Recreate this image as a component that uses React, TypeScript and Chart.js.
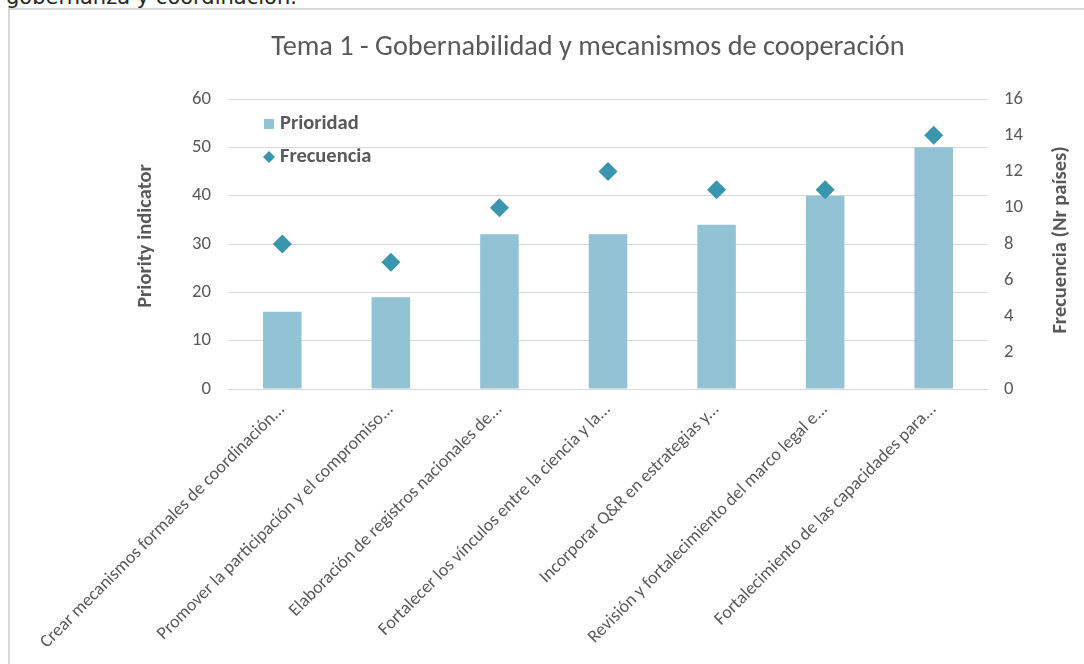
import React, { useEffect, useRef } from "react";
import { Chart, registerables } from "chart.js";

Chart.register(...registerables);

const chartTitle = "Tema 1 - Gobernabilidad y mecanismos de cooperación";
const leftAxisTitle = "Priority indicator";
const rightAxisTitle = "Frecuencia (Nr países)";
const pageCaption = "gobernanza y coordinación.";

const categories = [
  "Crear mecanismos formales de coordinación...",
  "Promover la participación y el compromiso...",
  "Elaboración de registros nacionales de...",
  "Fortalecer los vínculos entre la ciencia y la...",
  "Incorporar Q&R en estrategias y...",
  "Revisión y fortalecimiento del marco legal e...",
  "Fortalecimiento de las capacidades para...",
];
const prioridad = [16, 19, 32, 32, 34, 40, 50];
const frecuencia = [8, 7, 10, 12, 11, 11, 14];

const leftMax = 60;
const leftStep = 10;
const rightMax = 16;
const rightStep = 2;

const BAR_COLOR = "#92C3D5";
const DIAMOND_COLOR = "#3A96AE";
const TEXT_COLOR = "#595959";
const GRID_COLOR = "#D9D9D9";
const FONT = "Carlito, Lato";

const overlayPlugin = {
  id: "overlay",
  afterDraw(chart: any) {
    const { ctx, chartArea } = chart;
    const ca = chartArea;
    ctx.save();
    // Title
    ctx.fillStyle = TEXT_COLOR;
    ctx.font = `300 28.3px ${FONT}`;
    ctx.textAlign = "center";
    ctx.textBaseline = "middle";
    ctx.fillText(chartTitle, ca.left + (ca.right - ca.left) / 2 - 20, ca.top - 51);

    // Axis titles
    ctx.font = `bold 20.5px ${FONT}`;
    ctx.save();
    ctx.translate(ca.left - 82, ca.top + 137);
    ctx.rotate(-Math.PI / 2);
    ctx.fillText(leftAxisTitle, 0, 0);
    ctx.restore();
    ctx.save();
    ctx.translate(ca.right + 73, ca.top + 141);
    ctx.rotate(-Math.PI / 2);
    ctx.fillText(rightAxisTitle, 0, 0);
    ctx.restore();

    // Legend
    const ds0 = chart.data.datasets[0];
    const ds1 = chart.data.datasets[1];
    ctx.textAlign = "left";
    ctx.font = `bold 20.5px ${FONT}`;
    ctx.fillStyle = ds0.backgroundColor;
    ctx.fillRect(ca.left + 36, ca.top + 20, 10, 10);
    ctx.fillStyle = TEXT_COLOR;
    ctx.fillText(ds0.label, ca.left + 52, ca.top + 25);
    ctx.fillStyle = ds1.backgroundColor;
    const cx = ca.left + 41;
    const cy = ca.top + 58;
    ctx.beginPath();
    ctx.moveTo(cx, cy - 6);
    ctx.lineTo(cx + 6, cy);
    ctx.lineTo(cx, cy + 6);
    ctx.lineTo(cx - 6, cy);
    ctx.closePath();
    ctx.fill();
    ctx.fillStyle = TEXT_COLOR;
    ctx.fillText(ds1.label, ca.left + 52, cy);
    ctx.restore();
  },
};

function ComboChart() {
  const ref = useRef<HTMLCanvasElement | null>(null);
  useEffect(() => {
    if (!ref.current) return;
    const chart = new Chart(ref.current, {
      data: {
        labels: categories,
        datasets: [
          {
            type: "bar",
            label: "Prioridad",
            data: prioridad,
            backgroundColor: BAR_COLOR,
            yAxisID: "y",
            categoryPercentage: 1,
            barPercentage: 0.355,
            order: 2,
          },
          {
            type: "line",
            label: "Frecuencia",
            data: frecuencia,
            yAxisID: "y1",
            showLine: false,
            pointStyle: "rectRot",
            pointRadius: 9.5,
            pointHoverRadius: 9.5,
            backgroundColor: DIAMOND_COLOR,
            borderColor: DIAMOND_COLOR,
            pointBorderWidth: 0,
            order: 1,
          },
        ],
      } as any,
      options: {
        responsive: false,
        animation: false,
        layout: { padding: { top: 99, left: 0, right: 0, bottom: 0 } },
        plugins: {
          legend: { display: false },
          title: { display: false },
          tooltip: { enabled: false },
        },
        scales: {
          x: {
            type: "category",
            offset: true,
            grid: { display: false, drawTicks: false },
            border: { display: false },
            ticks: {
              autoSkip: false,
              minRotation: 45,
              maxRotation: 45,
              color: TEXT_COLOR,
              padding: 10,
              font: { family: FONT, size: 18 },
            },
            afterFit: (s: any) => {
              s.height = 275;
            },
          },
          y: {
            position: "left",
            min: 0,
            max: leftMax,
            ticks: {
              stepSize: leftStep,
              color: TEXT_COLOR,
              padding: 17,
              font: { family: FONT, size: 18.7 },
            },
            grid: { color: GRID_COLOR, lineWidth: 1, drawTicks: false },
            border: { display: false },
            afterFit: (s: any) => {
              s.width = 228;
            },
          },
          y1: {
            position: "right",
            min: 0,
            max: rightMax,
            ticks: {
              stepSize: rightStep,
              color: TEXT_COLOR,
              padding: 16,
              font: { family: FONT, size: 18.7 },
            },
            grid: { drawOnChartArea: false, drawTicks: false },
            border: { display: false },
            afterFit: (s: any) => {
              s.width = 96;
            },
          },
        },
      } as any,
      plugins: [overlayPlugin],
    });
    return () => chart.destroy();
  }, []);
  return (
    <canvas
      ref={ref}
      width={1084}
      height={664}
      style={{ position: "absolute", left: 0, top: 0, width: 1084, height: 664 }}
    />
  );
}

export default function App() {
  return (
    <div
      style={{
        position: "fixed",
        left: 0,
        top: 0,
        width: 1084,
        height: 664,
        overflow: "hidden",
        background: "#ffffff",
      }}
    >
      <div
        style={{
          position: "absolute",
          left: 6,
          top: -13,
          fontFamily: "'DejaVu Sans', sans-serif",
          fontSize: 21,
          lineHeight: "21px",
          color: "#262626",
          whiteSpace: "nowrap",
        }}
      >
        {pageCaption}
      </div>
      <div
        style={{
          position: "absolute",
          left: 8,
          top: 8,
          width: 2000,
          height: 2000,
          border: "2px solid #D9D9D9",
        }}
      />
      <ComboChart />
    </div>
  );
}
